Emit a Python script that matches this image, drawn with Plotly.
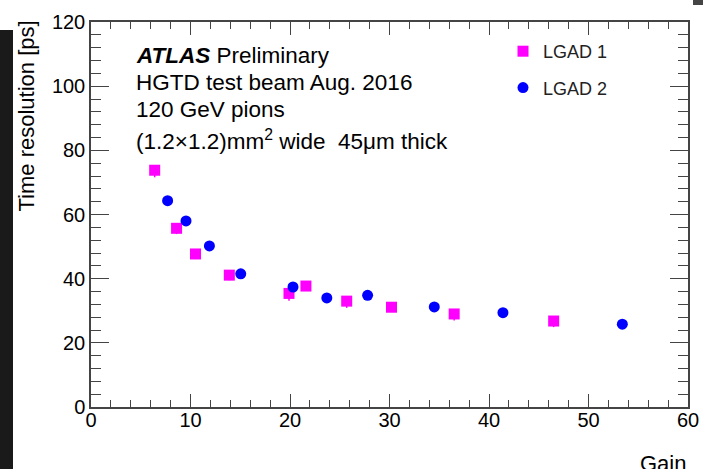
import plotly.graph_objects as go

# Time resolution vs gain, two LGAD sensors
lgad1_gain = [6.4, 8.6, 10.5, 13.9, 19.9, 21.6, 25.7, 30.2, 36.5, 46.5]
lgad1_res = [73.8, 55.7, 47.7, 41.1, 35.4, 37.7, 33.0, 31.1, 29.0, 26.8]
lgad1_err = [2.2, 1.8, 1.6, 1.6, 2.3, 1.5, 2.1, 1.5, 2.0, 1.9]

lgad2_gain = [7.7, 9.55, 11.9, 15.05, 20.3, 23.7, 27.8, 34.5, 41.4, 53.4]
lgad2_res = [64.3, 58.0, 50.2, 41.5, 37.4, 34.0, 34.8, 31.2, 29.4, 25.8]

FONT = "Liberation Sans, Arial, Helvetica, sans-serif"
W, H = 703, 469
L, R, T, B = 91, 15, 22, 62


def px(x):
    return (x - L) / (W - L - R)


def py(y):
    return (H - B - y) / (H - T - B)


fig = go.Figure()

fig.add_trace(go.Scatter(
    x=lgad1_gain, y=lgad1_res, mode='markers', name='LGAD 1',
    legendgroup='a',
    marker=dict(symbol='square', size=11, color='#ff00ff'),
    error_y=dict(type='data', symmetric=False, array=[0] * len(lgad1_err),
                 arrayminus=lgad1_err, color='#ff00ff', thickness=1.5, width=0)
))

fig.add_trace(go.Scatter(
    x=lgad2_gain, y=lgad2_res, mode='markers', name='LGAD 2',
    legendgroup='b',
    marker=dict(symbol='circle', size=11, color='#0000ff')
))

axis_common = dict(
    showgrid=False, zeroline=False, showline=True, linecolor='#444',
    linewidth=1.5, mirror='ticks', ticks='inside', tickcolor='#444',
    tickwidth=1.2, tickfont=dict(family=FONT, size=20, color='black'),
    automargin=False,
)

fig.update_xaxes(range=[0, 60], dtick=10, ticklen=13, ticklabelstandoff=-6,
                 minor=dict(dtick=2, ticklen=7, ticks='inside', tickcolor='#444'),
                 **axis_common)
fig.update_yaxes(range=[0, 120], dtick=20, ticklen=18,
                 minor=dict(dtick=4, ticklen=10, ticks='inside', tickcolor='#444'),
                 **axis_common)

text_lines = [
    ("<b><i>ATLAS</i></b> Preliminary", 55),
    ("HGTD test beam Aug. 2016", 82),
    ("120 GeV pions", 110),
    ("(1.2\u00d71.2)mm<sup>2</sup> wide\u00a0\u00a045\u03bcm thick", 140),
]
annotations = []
for txt, ypix in text_lines:
    annotations.append(dict(
        x=px(134), y=py(ypix), xref='paper', yref='paper', text=txt,
        showarrow=False, xanchor='left', yanchor='middle',
        font=dict(family=FONT, size=22.5, color='black')
    ))

annotations.append(dict(
    x=px(26), y=py(19), xref='paper', yref='paper', text='Time resolution [ps]',
    textangle=-90, showarrow=False, xanchor='center', yanchor='top',
    font=dict(family=FONT, size=22, color='black')
))
annotations.append(dict(
    x=px(688), y=py(449), xref='paper', yref='paper', text='Gain',
    showarrow=False, xanchor='right', yanchor='top',
    font=dict(family=FONT, size=22, color='black')
))

shapes = [
    # dark strip at the left edge of the screenshot
    dict(type='rect', xref='paper', yref='paper', x0=px(0), x1=px(13),
         y0=py(H), y1=py(30), fillcolor='#1a1a1a', line=dict(width=0), layer='above'),
    # small dark mark at top right
    dict(type='rect', xref='paper', yref='paper', x0=px(693), x1=px(703),
         y0=py(5), y1=py(0), fillcolor='#444', line=dict(width=0), layer='above'),
]

fig.update_layout(
    width=W, height=H,
    margin=dict(l=L, r=R, t=T, b=B, autoexpand=False),
    paper_bgcolor='white', plot_bgcolor='white',
    showlegend=True,
    legend=dict(x=px(503), y=py(33), xanchor='left', yanchor='top',
                font=dict(family=FONT, size=18, color='#222'),
                bgcolor='rgba(0,0,0,0)', traceorder='grouped',
                tracegroupgap=10),
    annotations=annotations,
    shapes=shapes,
)

# drop the default 8px page margin so the figure sits at the window corner
fig.write_html("out.html", config={'displayModeBar': False},
               post_script="document.body.style.margin='0';")
